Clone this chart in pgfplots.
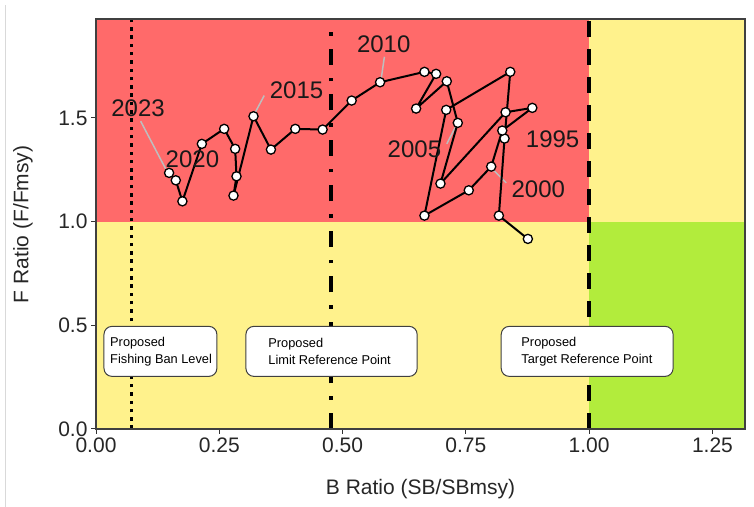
\documentclass[border=0pt]{standalone}
\usepackage{pgfplots}
\usepackage{pgfplotstable}
\pgfplotsset{compat=1.18}
\usepackage{fontspec}
\setmainfont{Liberation Sans}

\definecolor{overfished}{RGB}{255,106,106}
\definecolor{caution}{RGB}{255,242,140}
\definecolor{healthy}{RGB}{178,236,60}
\definecolor{leader}{RGB}{190,190,190}

\newcommand\tickfont{\fontsize{21bp}{25bp}\selectfont}
\newcommand\titlefont{\fontsize{21bp}{25bp}\selectfont}
\newcommand\yearfont{\fontsize{24bp}{28bp}\selectfont}
\newcommand\boxfont{\fontsize{12.8bp}{17bp}\selectfont}

% Stock trajectory: biomass ratio (SB/SBmsy) and fishing mortality ratio (F/Fmsy)
\pgfplotstableread{
year B F
1993 0.8757 0.9166
1994 0.8169 1.0289
1995 0.8284 1.4004
1996 0.8400 1.7221
1997 0.7101 1.5388
1998 0.6660 1.0289
1999 0.7559 1.1510
2000 0.8014 1.2653
2001 0.8238 1.4390
2002 0.8847 1.5485
2003 0.8305 1.5273
2004 0.6985 1.1833
2005 0.7336 1.4761
2006 0.7113 1.6768
2007 0.6491 1.5451
2008 0.6897 1.7125
2009 0.6660 1.7221
2010 0.5760 1.6720
2011 0.5184 1.5837
2012 0.4595 1.4438
2013 0.4041 1.4472
2014 0.3547 1.3473
2015 0.3194 1.5080
2016 0.2788 1.1254
2017 0.2849 1.2185
2018 0.2822 1.3507
2019 0.2599 1.4472
2020 0.2146 1.3748
2021 0.1752 1.0979
2022 0.1618 1.1992
2023 0.1482 1.2349
}\kobe

\begin{document}
\begin{tikzpicture}
\useasboundingbox (0,0) rectangle (754bp,507bp);
\draw[black!15, line width=1bp] (5bp,0) -- (5bp,502bp);
\begin{axis}[
  at={(96bp,78bp)}, anchor=south west,
  scale only axis, width=649bp, height=410bp,
  xmin=0, xmax=1.316, ymin=0, ymax=1.977,
  xtick={0,0.25,0.5,0.75,1,1.25},
  ytick={0,0.5,1,1.5},
  xtick pos=bottom, ytick pos=left,
  tick align=outside, major tick length=5bp,
  tick style={black!80, line width=1bp},
  axis line style={black!75, line width=1.1bp},
  axis on top,
  tick label style={font=\tickfont, text=black!85},
  /pgf/number format/assume math mode=true,
  xticklabel style={/pgf/number format/.cd, fixed, fixed zerofill, precision=2},
  yticklabel style={/pgf/number format/.cd, fixed, fixed zerofill, precision=1},
]
% stock status zones
\fill[overfished] (axis cs:0,1) rectangle (axis cs:1,1.977);
\fill[caution] (axis cs:0,0) rectangle (axis cs:1,1);
\fill[caution] (axis cs:1,1) rectangle (axis cs:1.316,1.977);
\fill[healthy] (axis cs:1,0) rectangle (axis cs:1.316,1);

% reference points
\addplot[black, line width=3.5bp, dash pattern=on 3.5bp off 4.8bp] coordinates {(0.072,0) (0.072,1.977)};
\addplot[black, line width=3.5bp, dash pattern=on 16bp off 13bp on 3.5bp off 13bp] coordinates {(0.477,0) (0.477,1.977)};
\addplot[black, line width=3.5bp, dash pattern=on 16bp off 12bp] coordinates {(1,0) (1,1.977)};

% label boxes for the reference points
\draw[draw=black!75, fill=white, line width=1bp, rounded corners=8bp] (axis cs:0.0162,0.2537) rectangle (axis cs:0.2451,0.4949);
\node[anchor=west, align=left, font=\boxfont, inner sep=0pt] at (axis cs:0.0284,0.375) {Proposed\\Fishing Ban Level};
\draw[draw=black!75, fill=white, line width=1bp, rounded corners=8bp] (axis cs:0.3040,0.2537) rectangle (axis cs:0.6512,0.4949);
\node[anchor=west, align=left, font=\boxfont, inner sep=0pt] at (axis cs:0.3492,0.375) {Proposed\\Limit Reference Point};
\draw[draw=black!75, fill=white, line width=1bp, rounded corners=8bp] (axis cs:0.8217,0.2537) rectangle (axis cs:1.1702,0.4949);
\node[anchor=west, align=left, font=\boxfont, inner sep=0pt] at (axis cs:0.8623,0.375) {Proposed\\Target Reference Point};

% year leader lines
\draw[leader, line width=1.5bp] (axis cs:0.0906,1.484) -- (axis cs:0.1413,1.254);
\draw[leader, line width=1.5bp] (axis cs:0.3411,1.608) -- (axis cs:0.3208,1.517);
\draw[leader, line width=1.5bp] (axis cs:0.5848,1.795) -- (axis cs:0.5781,1.685);
\draw[leader, line width=1.5bp] (axis cs:0.7113,1.375) -- (axis cs:0.7304,1.463);
\draw[leader, line width=1.5bp] (axis cs:0.8319,1.187) -- (axis cs:0.8047,1.251);

% trajectory
\addplot[black, line width=2bp, mark=*, mark size=4.6bp,
  mark options={fill=white, draw=black, line width=1.3bp}]
  table[x=B, y=F] {\kobe};

% year labels
\node[font=\yearfont, text=black!90] at (axis cs:0.0853,1.545) {2023};
\node[font=\yearfont, text=black!90] at (axis cs:0.1955,1.302) {2020};
\node[font=\yearfont, text=black!90] at (axis cs:0.4067,1.633) {2015};
\node[font=\yearfont, text=black!90] at (axis cs:0.5834,1.854) {2010};
\node[font=\yearfont, text=black!90] at (axis cs:0.6457,1.347) {2005};
\node[font=\yearfont, text=black!90] at (axis cs:0.8969,1.154) {2000};
\node[font=\yearfont, text=black!90] at (axis cs:0.9259,1.396) {1995};
\end{axis}
\node[font=\titlefont, text=black!85] at (420.5bp,18bp) {B Ratio (SB/SBmsy)};
\node[font=\titlefont, text=black!85, rotate=90] at (23bp,282.6bp) {F Ratio (F/Fmsy)};
\end{tikzpicture}
\end{document}
